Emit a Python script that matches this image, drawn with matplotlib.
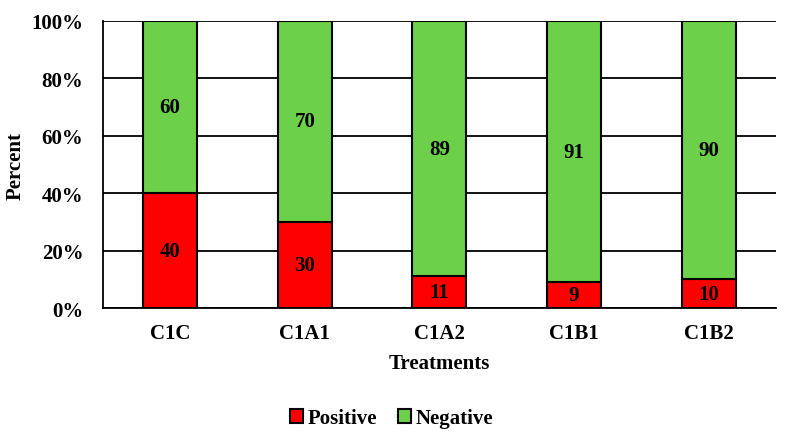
import numpy as np
import matplotlib.pyplot as plt

treatments = ["C1C", "C1A1", "C1A2", "C1B1", "C1B2"]
positive = [40, 30, 11, 9, 10]
negative = [60, 70, 89, 91, 90]

plt.rcParams['font.family'] = ['Liberation Serif', 'DejaVu Serif']
plt.rcParams['font.weight'] = 'bold'

fig = plt.figure(figsize=(7.91, 4.39), dpi=100)
ax = fig.add_axes([0.130, 0.296, 0.851, 0.654])

x = np.arange(len(treatments))
w = 0.40
red = '#FF0000'
green = '#6CD04A'
fs = 15

b1 = ax.bar(x, positive, w, color=red, edgecolor='black', linewidth=1.5, label='Positive', zorder=3)
b2 = ax.bar(x, negative, w, bottom=positive, color=green, edgecolor='black', linewidth=1.5, label='Negative', zorder=3)

for i in range(len(x)):
    ax.text(x[i], positive[i] / 2, str(positive[i]), ha='center', va='center',
            fontsize=fs, fontweight='bold', zorder=4)
    ax.text(x[i], positive[i] + negative[i] / 2, str(negative[i]), ha='center', va='center',
            fontsize=fs, fontweight='bold', zorder=4)

ax.set_xlim(-0.5, len(x) - 0.5)
ax.set_ylim(0, 100)
ax.set_yticks(np.arange(0, 101, 20))
ax.set_yticklabels([str(v) + "%" for v in range(0, 101, 20)])
ax.set_xticks(x)
ax.set_xticklabels(treatments)
ax.tick_params(axis='both', length=0, labelsize=fs)
ax.tick_params(axis='x', pad=11)
ax.tick_params(axis='y', pad=14)
for lab in ax.get_xticklabels() + ax.get_yticklabels():
    lab.set_fontweight('bold')

ax.grid(axis='y', color='black', linewidth=1.3, zorder=0)
ax.spines['top'].set_visible(False)
ax.spines['right'].set_visible(False)
ax.spines['left'].set_linewidth(1.3)
ax.spines['bottom'].set_linewidth(1.3)

ax.set_ylabel('Percent', fontsize=fs, fontweight='bold', labelpad=4)
ax.set_xlabel('Treatments', fontsize=fs, fontweight='bold', labelpad=7)

fig.legend(handles=[b1, b2], loc='center', bbox_to_anchor=(0.495, 0.045), ncol=2,
           frameon=False, fontsize=fs, handlelength=0.65, handleheight=0.65,
           handletextpad=0.2, columnspacing=1.0)

fig.savefig('out.png', dpi=100)
